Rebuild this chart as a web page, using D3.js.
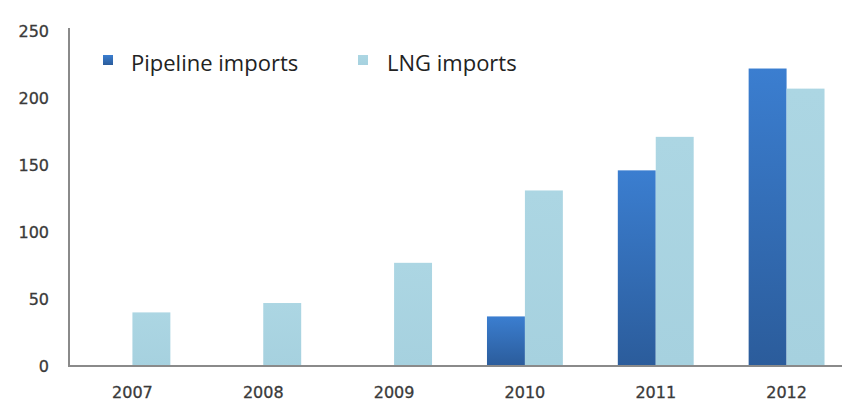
<!DOCTYPE html>
<html>
<head>
<meta charset="utf-8">
<script src="https://cdn.jsdelivr.net/npm/d3@7"></script>
<style>
  html, body { margin: 0; padding: 0; background: #fff; }
  svg { display: block; }
</style>
</head>
<body>
<svg id="chart" width="842" height="403"></svg>
<script>
// Gas imports by year
const years = ["2007", "2008", "2009", "2010", "2011", "2012"];
const pipelineImports = [0, 0, 0, 37, 146, 222];
const lngImports = [40, 47, 77, 131, 171, 207];
const seriesNames = ["Pipeline imports", "LNG imports"];
const yTicks = [0, 50, 100, 150, 200, 250];

const rows = years.map((y, i) => ({ year: y, values: [pipelineImports[i], lngImports[i]] }));

const svg = d3.select("#chart");
const W = 842, H = 403;
const plotLeft = 69, plotBottom = 366, plotTop = 31;

const x = d3.scaleBand().domain(years).range([67, 852]).paddingInner(0.42).paddingOuter(0.21);
const xs = d3.scaleBand().domain([0, 1]).range([0, x.bandwidth()]).padding(0);
const y = d3.scaleLinear().domain([0, 250]).range([plotBottom, plotTop]);

const defs = svg.append("defs");
const gPipe = defs.append("linearGradient").attr("id", "pipeGrad").attr("x1", 0).attr("y1", 0).attr("x2", 0).attr("y2", 1);
gPipe.append("stop").attr("offset", "0%").attr("stop-color", "#3b7ed0");
gPipe.append("stop").attr("offset", "100%").attr("stop-color", "#2b5c9b");
const gLng = defs.append("linearGradient").attr("id", "lngGrad").attr("x1", 0).attr("y1", 0).attr("x2", 0).attr("y2", 1);
gLng.append("stop").attr("offset", "0%").attr("stop-color", "#acd6e3");
gLng.append("stop").attr("offset", "100%").attr("stop-color", "#a6d1df");
const fills = ["url(#pipeGrad)", "url(#lngGrad)"];

// bars
const groups = svg.append("g").selectAll("g").data(rows).join("g")
  .attr("transform", d => `translate(${x(d.year)},0)`);
groups.selectAll("rect").data(d => d.values.map((v, k) => ({ v, k }))).join("rect")
  .attr("x", d => xs(d.k))
  .attr("width", xs.bandwidth())
  .attr("y", d => y(d.v))
  .attr("height", d => y(0) - y(d.v))
  .attr("fill", d => fills[d.k]);

// y axis
const yAxis = svg.append("g").attr("transform", `translate(${plotLeft},0)`)
  .call(d3.axisLeft(y).tickValues(yTicks).tickSize(0).tickPadding(20));
yAxis.select(".domain").remove();
yAxis.selectAll("text")
  .attr("font-family", "DejaVu Sans")
  .attr("font-size", 16)
  .attr("fill", "#3a3a3a")
  .attr("stroke", "#3a3a3a").attr("stroke-width", 0.3);
svg.append("line").attr("x1", plotLeft).attr("x2", plotLeft).attr("y1", 28).attr("y2", plotBottom)
  .attr("stroke", "#8a8a8a").attr("stroke-width", 2);

// x axis
const xAxis = svg.append("g").attr("transform", `translate(0,${plotBottom})`)
  .call(d3.axisBottom(x).tickSize(0).tickPadding(21));
xAxis.select(".domain").remove();
xAxis.selectAll("text")
  .attr("font-family", "DejaVu Sans")
  .attr("font-size", 16)
  .attr("fill", "#3a3a3a")
  .attr("stroke", "#3a3a3a").attr("stroke-width", 0.3);
svg.append("line").attr("x1", plotLeft - 1).attr("x2", W).attr("y1", plotBottom).attr("y2", plotBottom)
  .attr("stroke", "#8a8a8a").attr("stroke-width", 2);

// legend
const legendX = [103, 358];
const legend = svg.append("g").selectAll("g").data(seriesNames).join("g")
  .attr("transform", (d, i) => `translate(${legendX[i]},55)`);
legend.append("rect").attr("width", 10).attr("height", 10).attr("fill", (d, i) => fills[i]);
legend.append("text")
  .attr("x", (d, i) => i === 0 ? 28 : 29)
  .attr("y", 16)
  .attr("font-family", "Open Sans")
  .attr("font-size", 22)
  .attr("fill", "#222")
  .text(d => d);
</script>
</body>
</html>
